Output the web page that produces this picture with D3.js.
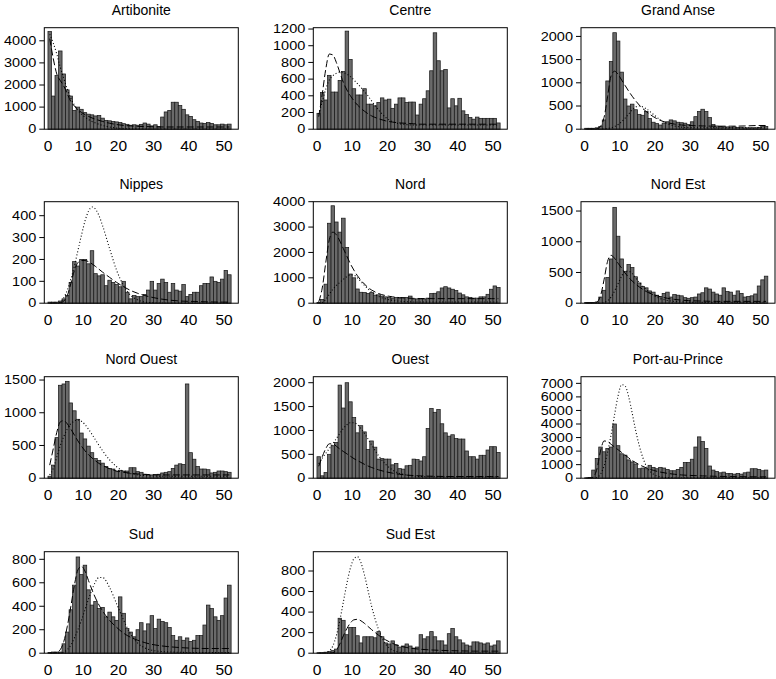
<!DOCTYPE html>
<html><head><meta charset="utf-8">
<script src="https://cdn.jsdelivr.net/npm/d3@7"></script>
<style>
body{margin:0;background:#fff}
svg{display:block}
text{font-family:"Liberation Sans",Arial,Helvetica,sans-serif;fill:#000}
</style>
</head><body>
<svg id="chart" width="776" height="679"></svg>
<script>
// ---------- data ----------
const regions = ["Artibonite","Centre","Grand Anse","Nippes","Nord","Nord Est","Nord Ouest","Ouest","Port-au-Prince","Sud","Sud Est"];
const weeks = d3.range(1, 53);
const xTicks = [0,10,20,30,40,50];
const curveWeeks = [1,2,3,4,5,6,7,8,9,10,11,12,13,14,15,16,18,20,22,24,26,28,30,34,38,42,46,50,52];

// weekly case counts (bars)
const artibonite = [4420,1500,2430,3540,2500,1780,1500,850,1000,900,750,680,650,600,620,500,400,380,350,330,300,250,220,180,200,180,220,280,230,150,200,120,550,780,850,1220,1220,1070,900,650,580,430,350,280,260,300,260,200,200,230,200,230];
const centre = [190,440,350,645,445,445,585,690,1175,835,485,410,410,485,300,300,280,320,375,350,360,250,300,375,375,320,325,325,170,300,365,460,700,1155,820,700,715,255,365,280,370,220,175,140,120,145,130,130,130,130,130,75];
const grandAnse = [20,20,20,30,60,200,1040,1460,2080,1900,1230,650,500,540,420,320,300,380,230,150,120,90,130,160,200,180,150,140,130,100,160,270,380,430,380,250,100,70,60,50,50,40,50,40,40,30,30,30,30,40,70,60];
const nippes = [5,5,5,10,20,35,95,190,170,200,200,180,240,135,125,130,80,105,95,85,75,100,50,20,35,30,30,40,60,100,60,90,110,95,50,90,60,55,85,30,40,50,50,80,90,90,120,100,95,110,150,130];
const nord = [30,150,750,3150,3840,3200,2800,3350,2200,1150,1000,560,430,420,380,420,320,330,280,250,220,200,230,200,220,230,280,170,170,170,170,200,380,390,450,600,650,600,550,500,400,330,250,230,200,200,250,250,350,550,680,620];
const nordEst = [10,10,10,20,100,210,420,720,1560,1090,720,520,630,580,430,330,270,250,200,180,130,110,160,180,100,140,130,120,90,80,90,100,150,170,250,230,180,150,130,250,190,180,130,200,160,100,110,120,150,280,380,440];
const nordOuest = [30,200,620,1420,1440,1480,1150,1030,900,690,600,490,390,300,270,230,180,150,140,100,120,110,110,160,160,100,90,60,50,50,50,60,80,90,100,150,200,220,210,1440,390,290,180,140,140,130,80,90,110,110,100,90];
const ouest = [450,50,120,500,680,750,1950,1470,2000,1600,1270,950,1100,970,600,780,650,400,410,400,400,280,310,200,190,260,270,400,390,360,450,1040,1460,1380,1440,1140,950,880,910,830,820,820,570,450,450,400,480,480,590,660,660,540];
const portAuPrince = [30,50,600,1450,2300,1950,2200,2300,4000,2400,1800,1700,1350,1200,1050,700,750,700,950,800,700,800,750,650,550,550,650,800,1150,1150,1400,2300,3050,2700,2200,900,600,500,400,450,350,350,300,350,300,400,450,700,700,650,550,600];
const sud = [5,10,10,10,80,180,370,580,820,670,750,540,410,440,380,390,310,350,310,280,480,340,210,180,140,200,260,190,250,320,210,290,270,260,220,150,110,140,110,130,100,110,150,150,240,410,380,310,280,320,470,580];
const sudEst = [5,5,10,15,25,40,340,320,180,250,250,170,100,160,160,160,150,210,160,100,90,120,80,60,70,90,70,50,60,180,140,160,210,160,120,120,80,190,240,160,130,100,80,70,110,110,100,90,100,70,80,120];

// fitted curves at curveWeeks (dashed and dotted)
const artiboniteDash = [4100,3200,2500,2200,1950,1600,1250,1050,880,760,660,580,510,450,400,350,270,210,170,150,130,120,110,100,100,100,100,100,100];
const artiboniteDot  = [4300,3900,3400,2800,2300,1800,1400,1100,850,680,550,440,350,280,220,170,100,50,25,10,5,0,0,0,0,0,0,0,0];
const centreDash = [150,420,720,900,890,800,680,560,470,400,340,290,250,215,185,160,125,100,85,75,70,65,60,60,60,60,60,60,60];
const centreDot  = [180,330,480,590,640,670,685,680,660,630,590,545,500,450,400,340,230,140,90,65,55,50,50,50,50,50,50,50,50];
const grandAnseDash = [0,0,0,10,60,250,700,1150,1250,1180,1060,940,820,710,610,520,380,270,190,140,110,90,80,70,65,65,70,80,80];
const grandAnseDot  = [0,0,0,0,0,5,15,30,60,100,160,240,330,420,480,500,440,320,200,120,70,45,35,30,30,30,30,30,30];
const nippesDash = [0,0,0,2,10,35,90,150,185,195,195,190,180,168,155,142,118,95,75,58,45,35,27,16,10,8,6,5,5];
const nippesDot  = [0,0,0,5,25,60,110,170,240,310,375,420,440,430,400,355,250,150,80,35,15,5,2,0,0,0,0,0,0];
const nordDash = [50,600,1600,2500,2800,2700,2450,2150,1850,1550,1300,1080,900,750,620,520,380,300,250,220,200,190,185,180,180,180,180,180,180];
const nordDot  = [0,30,150,350,550,700,820,940,1050,1120,1100,1000,850,700,560,440,270,170,110,80,60,50,50,50,50,50,50,50,50];
const nordEstDash = [0,0,0,20,120,380,680,780,730,650,570,490,420,360,310,265,190,140,105,80,62,50,42,35,30,30,30,30,30];
const nordEstDot  = [0,0,0,0,0,10,40,100,200,320,440,520,520,480,410,340,220,130,75,45,30,22,18,15,15,15,15,15,15];
const nordOuestDash = [200,450,700,860,880,830,750,660,570,490,420,360,310,265,225,195,145,110,90,75,65,58,55,50,50,50,50,50,50];
const nordOuestDot  = [50,150,320,500,640,750,830,875,890,870,820,750,670,585,500,420,280,175,105,70,50,40,35,30,30,30,30,30,30];
const ouestDash = [250,450,620,720,720,670,610,560,510,460,410,370,330,290,255,225,175,135,105,82,65,55,48,40,35,35,35,35,35];
const ouestDot  = [300,420,520,620,720,830,940,1040,1120,1160,1160,1120,1040,940,820,700,470,290,170,100,65,45,35,30,30,30,30,30,30];
const portAuPrinceDash = [0,0,100,700,2000,2750,2700,2500,2300,2100,1900,1700,1500,1300,1150,1000,760,580,450,360,290,240,210,170,140,120,110,100,100];
const portAuPrinceDot  = [0,0,0,50,300,900,1900,3200,4700,6100,6900,6800,6000,4800,3500,2400,900,300,100,40,20,10,10,10,10,10,10,10,10];
const sudDash = [0,0,5,30,100,230,400,580,710,740,700,620,540,470,410,360,280,220,170,135,110,90,75,58,48,42,40,40,40];
const sudDot  = [0,0,0,0,10,30,70,130,200,280,370,460,540,610,645,645,560,420,280,160,85,45,25,12,8,5,5,5,5];
const sudEstDash = [0,0,0,0,5,30,90,170,240,295,325,330,315,290,260,230,175,130,95,70,55,45,38,30,25,22,20,20,20];
const sudEstDot  = [0,0,0,20,70,170,320,500,680,830,920,940,880,760,610,460,230,90,30,10,2,0,0,0,0,0,0,0,0];

// y-axis tick labels and axis limits
const yTicksArtibonite = [0,1000,2000,3000,4000];
const yTicksCentre = [0,200,400,600,800,1000,1200];
const yTicksGrandAnse = [0,500,1000,1500,2000];
const yTicksNippes = [0,100,200,300,400];
const yTicksNord = [0,1000,2000,3000,4000];
const yTicksNordEst = [0,500,1000,1500];
const yTicksNordOuest = [0,500,1000,1500];
const yTicksOuest = [0,500,1000,1500,2000];
const yTicksPortAuPrince = [0,1000,2000,3000,4000,5000,6000,7000];
const yTicksSud = [0,200,400,600,800];
const yTicksSudEst = [0,200,400,600,800];
const yLimits = [4593,1216,2188,464,4000,1652,1551,2126,7491,865,988];

// ---------- table ----------
const panels = [
  [artibonite, artiboniteDash, artiboniteDot, yTicksArtibonite],
  [centre, centreDash, centreDot, yTicksCentre],
  [grandAnse, grandAnseDash, grandAnseDot, yTicksGrandAnse],
  [nippes, nippesDash, nippesDot, yTicksNippes],
  [nord, nordDash, nordDot, yTicksNord],
  [nordEst, nordEstDash, nordEstDot, yTicksNordEst],
  [nordOuest, nordOuestDash, nordOuestDot, yTicksNordOuest],
  [ouest, ouestDash, ouestDot, yTicksOuest],
  [portAuPrince, portAuPrinceDash, portAuPrinceDot, yTicksPortAuPrince],
  [sud, sudDash, sudDot, yTicksSud],
  [sudEst, sudEstDash, sudEstDot, yTicksSudEst]
].map((p, i) => ({name: regions[i], bars: p[0], dash: p[1], dot: p[2], ticks: p[3], ymax: yLimits[i]}));

// ---------- layout ----------
const colLeft = [44.3, 313.3, 581];
const rowTop = [27.7, 201.7, 376.7, 551.7];
const plotW = 194, plotH = 101.5;

const svg = d3.select("#chart");

panels.forEach((p, i) => {
  const L = colLeft[i % 3], T = rowTop[Math.floor(i / 3)];
  const x = d3.scaleLinear().domain([1 - 0.04 * 51, 52 + 0.04 * 51]).range([L, L + plotW]);
  const y = d3.scaleLinear().domain([0, p.ymax]).range([T + plotH, T]);
  const g = svg.append("g");

  const clipId = "clip" + i;
  g.append("clipPath").attr("id", clipId).append("rect")
    .attr("x", L).attr("y", T).attr("width", plotW).attr("height", plotH);

  // bars
  g.append("g").selectAll("rect").data(p.bars).join("rect")
    .attr("x", (d, k) => x(weeks[k] - 1))
    .attr("width", (d, k) => x(weeks[k]) - x(weeks[k] - 1))
    .attr("y", d => y(d))
    .attr("height", d => y(0) - y(d))
    .attr("fill", "#6a6a6a")
    .attr("stroke", "#1a1a1a")
    .attr("stroke-width", 0.75);

  const line = d3.line()
    .x((d, k) => x(curveWeeks[k] - 0.5))
    .y(d => y(d))
    .curve(d3.curveMonotoneX);

  const cg = g.append("g").attr("clip-path", `url(#${clipId})`);
  cg.append("path").attr("d", line(p.dash))
    .attr("fill", "none").attr("stroke", "#000").attr("stroke-width", 1)
    .attr("stroke-dasharray", "7,3");
  cg.append("path").attr("d", line(p.dot))
    .attr("fill", "none").attr("stroke", "#000").attr("stroke-width", 1.1)
    .attr("stroke-dasharray", "1,2.2");

  // box
  g.append("rect").attr("x", L).attr("y", T).attr("width", plotW).attr("height", plotH)
    .attr("fill", "none").attr("stroke", "#000").attr("stroke-width", 1);

  // y axis
  const ya = g.append("g");
  ya.selectAll("line").data(p.ticks).join("line")
    .attr("x1", L - 5).attr("x2", L)
    .attr("y1", d => y(d)).attr("y2", d => y(d))
    .attr("stroke", "#000").attr("stroke-width", 1);
  ya.selectAll("text").data(p.ticks).join("text")
    .attr("transform", d => `translate(${L - 8},${y(d)}) scale(1,0.82)`)
    .attr("text-anchor", "end")
    .attr("dy", "0.36em")
    .style("font-size", "14.5px")
    .text(d => d);

  // x axis labels
  g.append("g").selectAll("text").data(xTicks).join("text")
    .attr("x", d => x(d))
    .attr("y", T + plotH + 22)
    .attr("text-anchor", "middle")
    .style("font-size", "15.5px")
    .text(d => d);

  // title
  g.append("text")
    .attr("x", L + plotW / 2)
    .attr("y", T - 13)
    .attr("text-anchor", "middle")
    .style("font-size", "14px")
    .text(p.name);
});
</script>
</body></html>
